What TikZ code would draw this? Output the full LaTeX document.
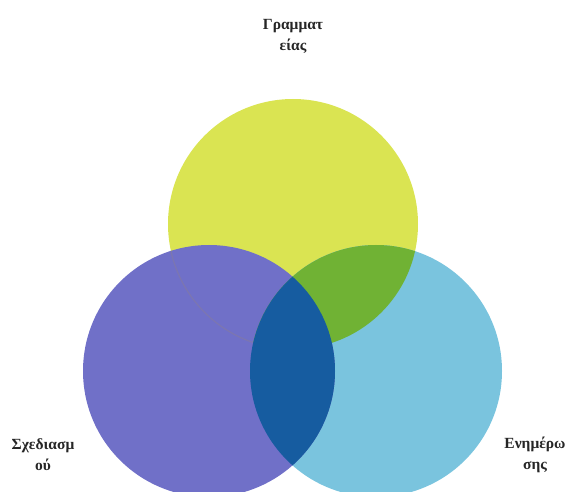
\documentclass[tikz,border=0pt]{standalone}
\usepackage{fontspec}
\setmainfont{Liberation Serif}
\definecolor{cyel}{RGB}{218,228,82}
\definecolor{cpur}{RGB}{112,112,200}
\definecolor{ccya}{RGB}{122,196,222}
\definecolor{cgrn}{RGB}{112,178,52}
\definecolor{cdbl}{RGB}{22,92,160}
\definecolor{cedge}{RGB}{124,118,176}
\begin{document}
\begin{tikzpicture}[x=1pt,y=1pt,
  lbl/.style={font=\fontsize{15.5}{21}\selectfont\bfseries, align=center, text=black!85}]
\useasboundingbox (0,0) rectangle (571,491);
\coordinate (Y) at (293,267);
\coordinate (P) at (209,120);
\coordinate (C) at (376,120);
\def\ry{125}
\def\rp{126}
\def\rc{126}
% base circles
\fill[cyel] (Y) circle (\ry);
\fill[ccya] (C) circle (\rc);
\fill[cpur] (P) circle (\rp);
% yellow and cyan overlap
\begin{scope}
  \clip (Y) circle (\ry);
  \fill[cgrn] (C) circle (\rc);
\end{scope}
% faint yellow edge inside purple
\begin{scope}
  \clip (P) circle (\rp);
  \draw[cedge, line width=1.2pt] (Y) circle (\ry);
\end{scope}
% purple and cyan overlap
\begin{scope}
  \clip (P) circle (\rp);
  \fill[cdbl] (C) circle (\rc);
\end{scope}
% labels
\node[lbl] (tY) at (293,455) {Γραμματ\\είας};
\node[lbl] (tP) at (43,36) {Σχεδιασμ\\ού};
\node[lbl] (tC) at (535,36) {Ενημέρω\\σης};
\end{tikzpicture}
\end{document}
